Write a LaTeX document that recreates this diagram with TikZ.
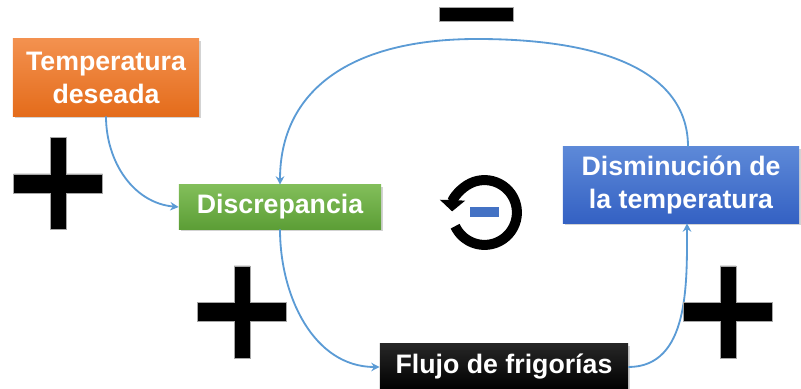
\documentclass[tikz,border=0pt]{standalone}
\usepackage{fontspec}
\setmainfont{Liberation Sans}
\usetikzlibrary{arrows.meta, shadows, calc}

\definecolor{linkblue}{HTML}{5B9BD5}
\definecolor{orangetop}{HTML}{F3914F}
\definecolor{orangebot}{HTML}{E46C1B}
\definecolor{greentop}{HTML}{82BE5A}
\definecolor{greenbot}{HTML}{5C9E36}
\definecolor{bluetop}{HTML}{5D89D8}
\definecolor{bluebot}{HTML}{3461C3}
\definecolor{signblue}{HTML}{4472C4}

\tikzset{
    box/.style={rectangle, text=white, inner sep=0pt, align=center,
        font=\fontsize{19}{23.5}\selectfont\bfseries,
        drop shadow={opacity=0.35, shadow xshift=1.5pt, shadow yshift=-1.5pt}},
    link/.style={draw=linkblue, line width=1.3pt, -{Stealth[length=6pt, width=6pt]}},
    bar/.style={fill=black, draw=gray!70, line width=0.4pt},
}

% big plus sign, centre given in picture units
\newcommand{\drawplus}[2]{%
    \filldraw[bar] (#1-44.5,#2-9.5) -- (#1-8,#2-9.5) -- (#1-8,#2-46) -- (#1+8,#2-46)
        -- (#1+8,#2-9.5) -- (#1+44.5,#2-9.5) -- (#1+44.5,#2+9.5) -- (#1+8,#2+9.5)
        -- (#1+8,#2+46) -- (#1-8,#2+46) -- (#1-8,#2+9.5) -- (#1-44.5,#2+9.5) -- cycle;
}

\begin{document}
\begin{tikzpicture}[x=0.025cm, y=0.025cm]
\useasboundingbox (0,0) rectangle (801,388);

\node[box, top color=orangetop, bottom color=orangebot,
    minimum width=4.65cm, minimum height=1.925cm] (temp) at (106,310.5) {Temperatura\\deseada};
\node[box, top color=greentop, bottom color=greenbot,
    minimum width=5.05cm, minimum height=1.1cm] (disc) at (280,181) {Discrepancia};
\node[box, top color=bluetop, bottom color=bluebot,
    minimum width=5.9cm, minimum height=1.9cm] (dism) at (681,203) {Disminución de\\la temperatura};
\node[box, top color=black!85, bottom color=black,
    minimum width=6.2cm, minimum height=1.15cm] (flujo) at (504,21) {Flujo de frigorías};

\coordinate (looptop) at (477,349);

\draw[link] (temp.south) to[out=-90, in=175] (disc.west);
\draw[link] (disc.south) to[out=-90, in=180] (flujo.west);
\draw[link] (flujo.east) to[out=0, in=-90] ([xshift=0.15cm]dism.south);
\draw[link] ([xshift=0.175cm]dism.north) .. controls +(0,70) and (614,349) .. (looptop)
    .. controls (350,349) and +(0,94) .. (disc.north);

% signs
\drawplus{58}{204.5}
\drawplus{242}{76}
\drawplus{728}{76}
\filldraw[bar] (439,367) rectangle (513,381);

% loop symbol
\coordinate (loopc) at (484.5,175.5);
\draw[line width=0.25cm, -{Triangle[length=0.28cm, width=0.62cm]}]
    (loopc) ++(205:0.81cm) arc[start angle=205, end angle=538, radius=0.81cm];
\fill[signblue] (470,171) rectangle (499,181);

\end{tikzpicture}
\end{document}
